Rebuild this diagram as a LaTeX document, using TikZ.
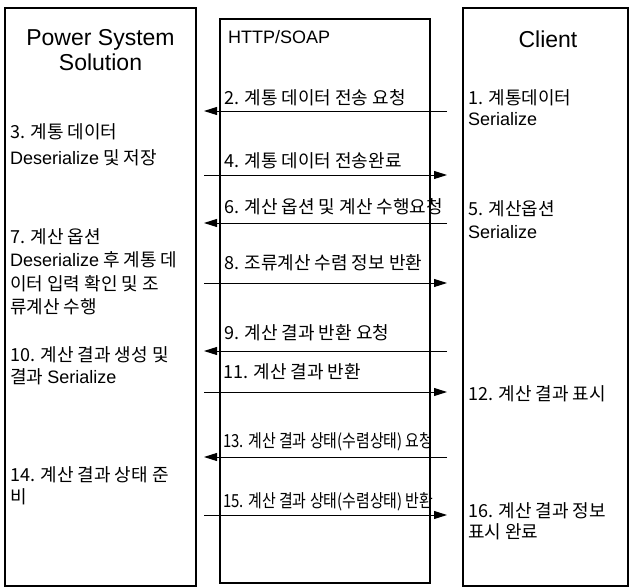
\documentclass[tikz,border=0pt]{standalone}
\usepackage{fontspec}
\setmainfont{Noto Sans CJK KR}
\newfontfamily\lat{Liberation Sans}
\usetikzlibrary{arrows.meta}
\begin{document}
\begin{tikzpicture}[x=1pt,y=-1pt,
  boxshape/.style={draw, line width=1.2pt, inner sep=0pt},
  msg/.style={draw, line width=0.9pt, -{Triangle[length=13pt,width=8pt]}},
  txt/.style={anchor=base west, inner sep=0pt, font=\fontsize{18}{21}\selectfont},
  ttl/.style={anchor=base, inner sep=0pt, font=\lat\fontsize{23}{27}\selectfont}]
\useasboundingbox (0,0) rectangle (630,588);
% boxes
\node[boxshape, minimum width=191pt, minimum height=578pt] (pss) at (100.5,297) {};
\node[boxshape, minimum width=210pt, minimum height=564pt] (http) at (325,301) {};
\node[boxshape, minimum width=165pt, minimum height=578pt] (cli) at (545.5,297) {};
% titles
\node[ttl] (t1) at (100.5,46) {Power System};
\node[ttl] (t2) at (100.5,71) {Solution};
\node[anchor=base west, inner sep=0pt, font=\lat\fontsize{18}{22}\selectfont] (t3) at (228,43.5) {HTTP/SOAP};
\node[ttl] (t4) at (548,48) {Client};
% left texts
\node[txt] (s3a) at (10,139) {3. 계통 데이터};
\node[txt] (s3b) at (10,165) {{\lat Deserialize} 및 저장};
\node[txt] (s7a) at (10,244) {7. 계산 옵션};
\node[txt] (s7b) at (10,267) {{\lat Deserialize} 후 계통 데};
\node[txt] (s7c) at (10,291) {이터 입력 확인 및 조};
\node[txt] (s7d) at (10,314) {류계산 수행};
\node[txt] (s10a) at (10,362) {10. 계산 결과 생성 및};
\node[txt] (s10b) at (10,384) {결과 {\lat Serialize}};
\node[txt] (s14a) at (10,482) {14. 계산 결과 상태 준};
\node[txt] (s14b) at (10,503) {비};
% right texts
\node[txt] (s1a) at (468,105) {1. 계통데이터};
\node[txt] (s1b) at (468,126) {\lat Serialize};
\node[txt] (s5a) at (468,216) {5. 계산옵션};
\node[txt] (s5b) at (468,239) {\lat Serialize};
\node[txt] (s12) at (468,400) {12. 계산 결과 표시};
\node[txt] (s16a) at (468,517) {16. 계산 결과 정보};
\node[txt] (s16b) at (468,538) {표시 완료};
% message labels
\node[txt] (m2) at (224,105) {2. 계통 데이터 전송 요청};
\node[txt] (m4) at (224,168) {4. 계통 데이터 전송완료};
\node[txt] (m6) at (224,214) {6. 계산 옵션 및 계산 수행요청};
\node[txt] (m8) at (224,270) {8. 조류계산 수렴 정보 반환};
\node[txt] (m9) at (224,340) {9. 계산 결과 반환 요청};
\node[txt] (m11) at (223,379) {11. 계산 결과 반환};
\node[txt] (m13) at (223,447) {\scalebox{0.83}[1]{13. 계산 결과 상태(수렴상태) 요청}};
\node[txt] (m15) at (223,507) {\scalebox{0.83}[1]{15. 계산 결과 상태(수렴상태) 반환}};
% arrow end points
\foreach \n/\y in {2/111,4/175,6/223,8/283,9/351,11/392,13/457,15/515}{
  \coordinate (L\n) at (204,\y);
  \coordinate (R\n) at (447,\y);
}
\draw[msg] (R2) -- (L2);
\draw[msg] (L4) -- (R4);
\draw[msg] (R6) -- (L6);
\draw[msg] (L8) -- (R8);
\draw[msg] (R9) -- (L9);
\draw[msg] (L11) -- (R11);
\draw[msg] (R13) -- (L13);
\draw[msg] (L15) -- (R15);
\end{tikzpicture}
\end{document}
